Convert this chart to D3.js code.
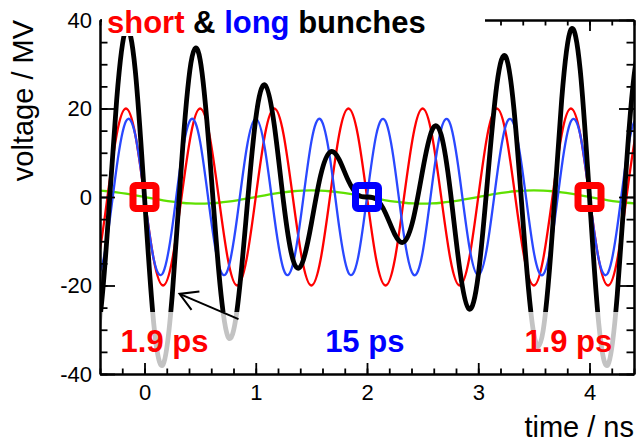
<!DOCTYPE html>
<html><head><meta charset="utf-8">
<script src="https://cdn.jsdelivr.net/npm/d3@7"></script>
<style>
html,body{margin:0;padding:0;background:#fff;}
svg{display:block;font-family:"Liberation Sans",Arial,Helvetica,sans-serif;}
</style>
</head><body>
<svg id="chart" width="636" height="442"></svg>
<script>
// ---- data (time in ns, voltage in MV) ----
const timeNs = [-0.5,-0.417,-0.333,-0.25,-0.167,-0.083,0,0.083,0.167,0.25,0.333,0.417,0.5,0.583,0.667,0.75,0.833,0.917,1,1.083,1.167,1.25,1.333,1.417,1.5,1.583,1.667,1.75,1.833,1.917,2,2.083,2.167,2.25,2.333,2.417,2.5,2.583,2.667,2.75,2.833,2.917,3,3.083,3.167,3.25,3.333,3.417,3.5,3.583,3.667,3.75,3.833,3.917,4,4.083,4.167,4.25,4.333,4.417,4.5];
const shortBunchMV = [-20,-14.14,0,14.14,20,14.14,0,-14.14,-20,-14.14,0,14.14,20,14.14,0,-14.14,-20,-14.14,0,14.14,20,14.14,0,-14.14,-20,-14.14,0,14.14,20,14.14,0,-14.14,-20,-14.14,0,14.14,20,14.14,0,-14.14,-20,-14.14,0,14.14,20,14.14,0,-14.14,-20,-14.14,0,14.14,20,14.14,0,-14.14,-20,-14.14,0,14.14,20];
const longBunchMV = [-12.52,-17.55,-8.85,6.77,17.10,14.04,0,-14.04,-17.10,-6.77,8.85,17.55,12.52,-2.31,-15.33,-16.35,-4.58,10.78,17.7,10.78,-4.58,-16.35,-15.33,-2.31,12.52,17.55,8.85,-6.77,-17.10,-14.04,0,14.04,17.10,6.77,-8.85,-17.55,-12.52,2.31,15.33,16.35,4.58,-10.78,-17.7,-10.78,4.58,16.35,15.33,2.31,-12.52,-17.55,-8.85,6.77,17.10,14.04,0,-14.04,-17.10,-6.77,8.85,17.55,12.52];
const slowMV = [1.5,1.45,1.3,1.06,0.75,0.39,0,-0.39,-0.75,-1.06,-1.3,-1.45,-1.5,-1.45,-1.3,-1.06,-0.75,-0.39,0,0.39,0.75,1.06,1.3,1.45,1.5,1.45,1.3,1.06,0.75,0.39,0,-0.39,-0.75,-1.06,-1.3,-1.45,-1.5,-1.45,-1.3,-1.06,-0.75,-0.39,0,0.39,0.75,1.06,1.3,1.45,1.5,1.45,1.3,1.06,0.75,0.39,0,-0.39,-0.75,-1.06,-1.3,-1.45,-1.5];
const totalMV = [-31.02,-30.24,-7.55,21.98,37.85,28.57,0,-28.57,-37.85,-21.98,7.55,30.24,31.02,10.38,-16.63,-31.56,-25.33,-3.76,17.7,25.31,16.17,-1.15,-14.03,-15.0,-5.98,4.86,10.15,8.43,3.65,0.49,0,-0.49,-3.65,-8.43,-10.15,-4.86,5.98,15.0,14.03,1.15,-16.17,-25.31,-17.7,3.76,25.33,31.56,16.63,-10.38,-31.02,-30.24,-7.55,21.98,37.85,28.57,0,-28.57,-37.85,-21.98,7.55,30.24,31.02];
const grayBelowMV = -26;

const xDomain = [-0.4, 4.4];
const yDomain = [-40, 40];
const xTickValues = [0, 1, 2, 3, 4];
const yTickValues = [-40, -20, 0, 20, 40];

const markerTimes = [0, 2, 4];
const markerColors = ["#ff0000", "#0000ff", "#ff0000"];

const labelTexts = ["1.9 ps", "15 ps", "1.9 ps"];
const labelTimes = [0.18, 1.98, 3.81];
const labelColors = ["#ff0000", "#0000ff", "#ff0000"];
const labelMV = -35;

const arrowTail = [0.845, -27.6];
const arrowTip = [0.315, -21.9];

const titleParts = ["short", " & ", "long", " bunches"];
const titleColors = ["#ff0000", "#000000", "#0000ff", "#000000"];
const xTitle = "time / ns";
const yTitle = "voltage / MV";

// ---- drawing ----
const L = 100, R = 634, T = 20, B = 374;
const svg = d3.select("#chart");
const x = d3.scaleLinear().domain(xDomain).range([L, R]);
const y = d3.scaleLinear().domain(yDomain).range([B, T]);

const defs = svg.append("defs");
defs.append("clipPath").attr("id", "plotClip").append("rect")
  .attr("x", L).attr("y", T).attr("width", R - L).attr("height", B - T);
defs.append("clipPath").attr("id", "upperClip").append("rect")
  .attr("x", L).attr("y", T).attr("width", R - L).attr("height", y(grayBelowMV) - T);
defs.append("clipPath").attr("id", "lowerClip").append("rect")
  .attr("x", L).attr("y", y(grayBelowMV)).attr("width", R - L).attr("height", B - y(grayBelowMV));

const line = vals => d3.line()
  .x((d, i) => x(timeNs[i]))
  .y(d => y(d))
  .curve(d3.curveNatural)(vals);

const curves = svg.append("g").attr("clip-path", "url(#plotClip)");
curves.append("path").attr("d", line(slowMV)).attr("fill", "none").attr("stroke", "#5fe000").attr("stroke-width", 2.3);
curves.append("path").attr("d", line(shortBunchMV)).attr("fill", "none").attr("stroke", "#ff0000").attr("stroke-width", 2.3);
curves.append("path").attr("d", line(longBunchMV)).attr("fill", "none").attr("stroke", "#2a48ff").attr("stroke-width", 2.3);
curves.append("path").attr("d", line(totalMV)).attr("fill", "none").attr("stroke", "#000").attr("stroke-width", 4.8)
  .attr("clip-path", "url(#upperClip)");
curves.append("path").attr("d", line(totalMV)).attr("fill", "none").attr("stroke", "#c3c3c3").attr("stroke-width", 4.8)
  .attr("clip-path", "url(#lowerClip)");

// markers
const side = 23;
svg.append("g").selectAll("rect").data(markerTimes).join("rect")
  .attr("x", d => x(d) - side / 2).attr("y", y(0) - side / 2)
  .attr("width", side).attr("height", side).attr("rx", 2.5)
  .attr("fill", "none").attr("stroke", (d, i) => markerColors[i]).attr("stroke-width", 7);

// labels
svg.append("g").selectAll("text").data(labelTexts).join("text")
  .attr("x", (d, i) => x(labelTimes[i])).attr("y", y(labelMV))
  .attr("text-anchor", "middle").attr("font-weight", "bold").attr("font-size", 31)
  .attr("fill", (d, i) => labelColors[i]).text(d => d);

// arrow
const tx = x(arrowTip[0]), ty = y(arrowTip[1]), sx = x(arrowTail[0]), sy = y(arrowTail[1]);
const ang = Math.atan2(sy - ty, sx - tx), hl = 20, ha = Math.PI / 6;
const arrow = svg.append("g").attr("stroke", "#000").attr("stroke-width", 2).attr("fill", "none");
arrow.append("line").attr("x1", sx).attr("y1", sy).attr("x2", tx).attr("y2", ty);
arrow.append("path").attr("d",
  `M${tx + hl * Math.cos(ang + ha)},${ty + hl * Math.sin(ang + ha)}L${tx},${ty}L${tx + hl * Math.cos(ang - ha)},${ty + hl * Math.sin(ang - ha)}`);

// axes
function styleAxis(g) {
  g.select(".domain").attr("stroke", "#000").attr("stroke-width", 2);
  g.selectAll(".tick line").attr("stroke", "#000").attr("stroke-width", 1.8);
  g.selectAll("text").attr("font-size", 22).attr("fill", "#000")
    .attr("font-family", "'Liberation Sans',Arial,sans-serif");
}
const plainNum = d => String(d);
const xMinor = x.ticks(24), yMinor = y.ticks(16);
svg.append("g").attr("transform", `translate(0,${B})`)
  .call(d3.axisBottom(x).tickValues(xMinor).tickSizeInner(-5.5).tickSizeOuter(0).tickFormat("")).call(styleAxis);
svg.append("g").attr("transform", `translate(0,${B})`)
  .call(d3.axisBottom(x).tickValues(xTickValues).tickSizeInner(-11).tickSizeOuter(0).tickPadding(10).tickFormat(plainNum)).call(styleAxis);
svg.append("g").attr("transform", `translate(0,${T})`)
  .call(d3.axisTop(x).tickValues(xMinor).tickSizeInner(-5.5).tickSizeOuter(0).tickFormat("")).call(styleAxis);
svg.append("g").attr("transform", `translate(0,${T})`)
  .call(d3.axisTop(x).tickValues(xTickValues).tickSizeInner(-11).tickSizeOuter(0).tickFormat("")).call(styleAxis);
svg.append("g").attr("transform", `translate(${L},0)`)
  .call(d3.axisLeft(y).tickValues(yMinor).tickSizeInner(-7.5).tickSizeOuter(0).tickFormat("")).call(styleAxis);
svg.append("g").attr("transform", `translate(${L},0)`)
  .call(d3.axisLeft(y).tickValues(yTickValues).tickSizeInner(-15).tickSizeOuter(0).tickPadding(8).tickFormat(plainNum)).call(styleAxis);
svg.append("g").attr("transform", `translate(${R},0)`)
  .call(d3.axisRight(y).tickValues(yMinor).tickSizeInner(-7.5).tickSizeOuter(0).tickFormat("")).call(styleAxis);
svg.append("g").attr("transform", `translate(${R},0)`)
  .call(d3.axisRight(y).tickValues(yTickValues).tickSizeInner(-15).tickSizeOuter(0).tickFormat("")).call(styleAxis);

// title with white box
svg.append("rect").attr("x", 102).attr("y", 0).attr("width", 383).attr("height", 36).attr("fill", "#fff");
const title = svg.append("text").attr("x", 107).attr("y", 33).attr("font-weight", "bold").attr("font-size", 31)
  .style("white-space", "pre");
titleParts.forEach((p, i) => title.append("tspan").attr("fill", titleColors[i]).text(p));

// axis titles
svg.append("text").attr("x", R).attr("y", 437).attr("text-anchor", "end").attr("font-size", 29).text(xTitle);
svg.append("text").attr("transform", `translate(33,${T}) rotate(-90)`).attr("text-anchor", "end").attr("font-size", 29).text(yTitle);
</script>
</body></html>
